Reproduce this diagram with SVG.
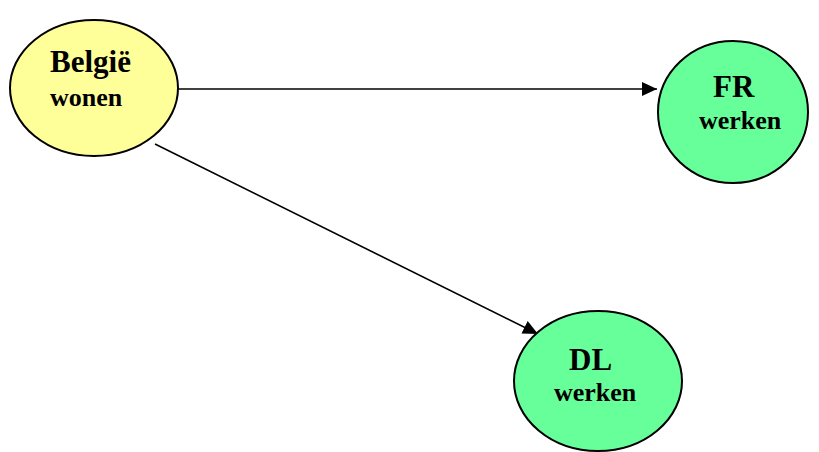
<svg xmlns="http://www.w3.org/2000/svg" width="819" height="452" viewBox="0 0 819 452">
<style>
.n{stroke:#000;stroke-width:2}
.y{fill:#FFFF99}
.g{fill:#66FF99}
.t{font-family:"Liberation Serif","Times New Roman",serif;font-weight:bold;fill:#000}
.big{font-size:31px}
.sm{font-size:26px}
.c{stroke:#000;stroke-width:1.6;fill:none;marker-end:url(#ah)}
</style>
<defs>
<marker id="ah" markerWidth="16" markerHeight="14" refX="15" refY="7" orient="auto" markerUnits="userSpaceOnUse">
<path d="M0,0 L15,7 L0,14 Z" fill="#000"/>
</marker>
</defs>
<rect width="819" height="452" fill="#fff"/>
<g id="connectors">
<line class="c" x1="179" y1="89" x2="657" y2="89"/>
<line class="c" x1="155" y1="144" x2="538" y2="334"/>
</g>
<g id="belgie">
<ellipse class="n y" cx="94" cy="88" rx="84" ry="68"/>
<text class="t big" x="50" y="72">België</text>
<text class="t sm" x="50" y="106">wonen</text>
</g>
<g id="fr">
<ellipse class="n g" cx="733" cy="112" rx="75" ry="71"/>
<text class="t big" x="713" y="97">FR</text>
<text class="t sm" x="699" y="129">werken</text>
</g>
<g id="dl">
<ellipse class="n g" cx="598" cy="381" rx="84" ry="70"/>
<text class="t big" x="569" y="370">DL</text>
<text class="t sm" x="554" y="401">werken</text>
</g>
</svg>
